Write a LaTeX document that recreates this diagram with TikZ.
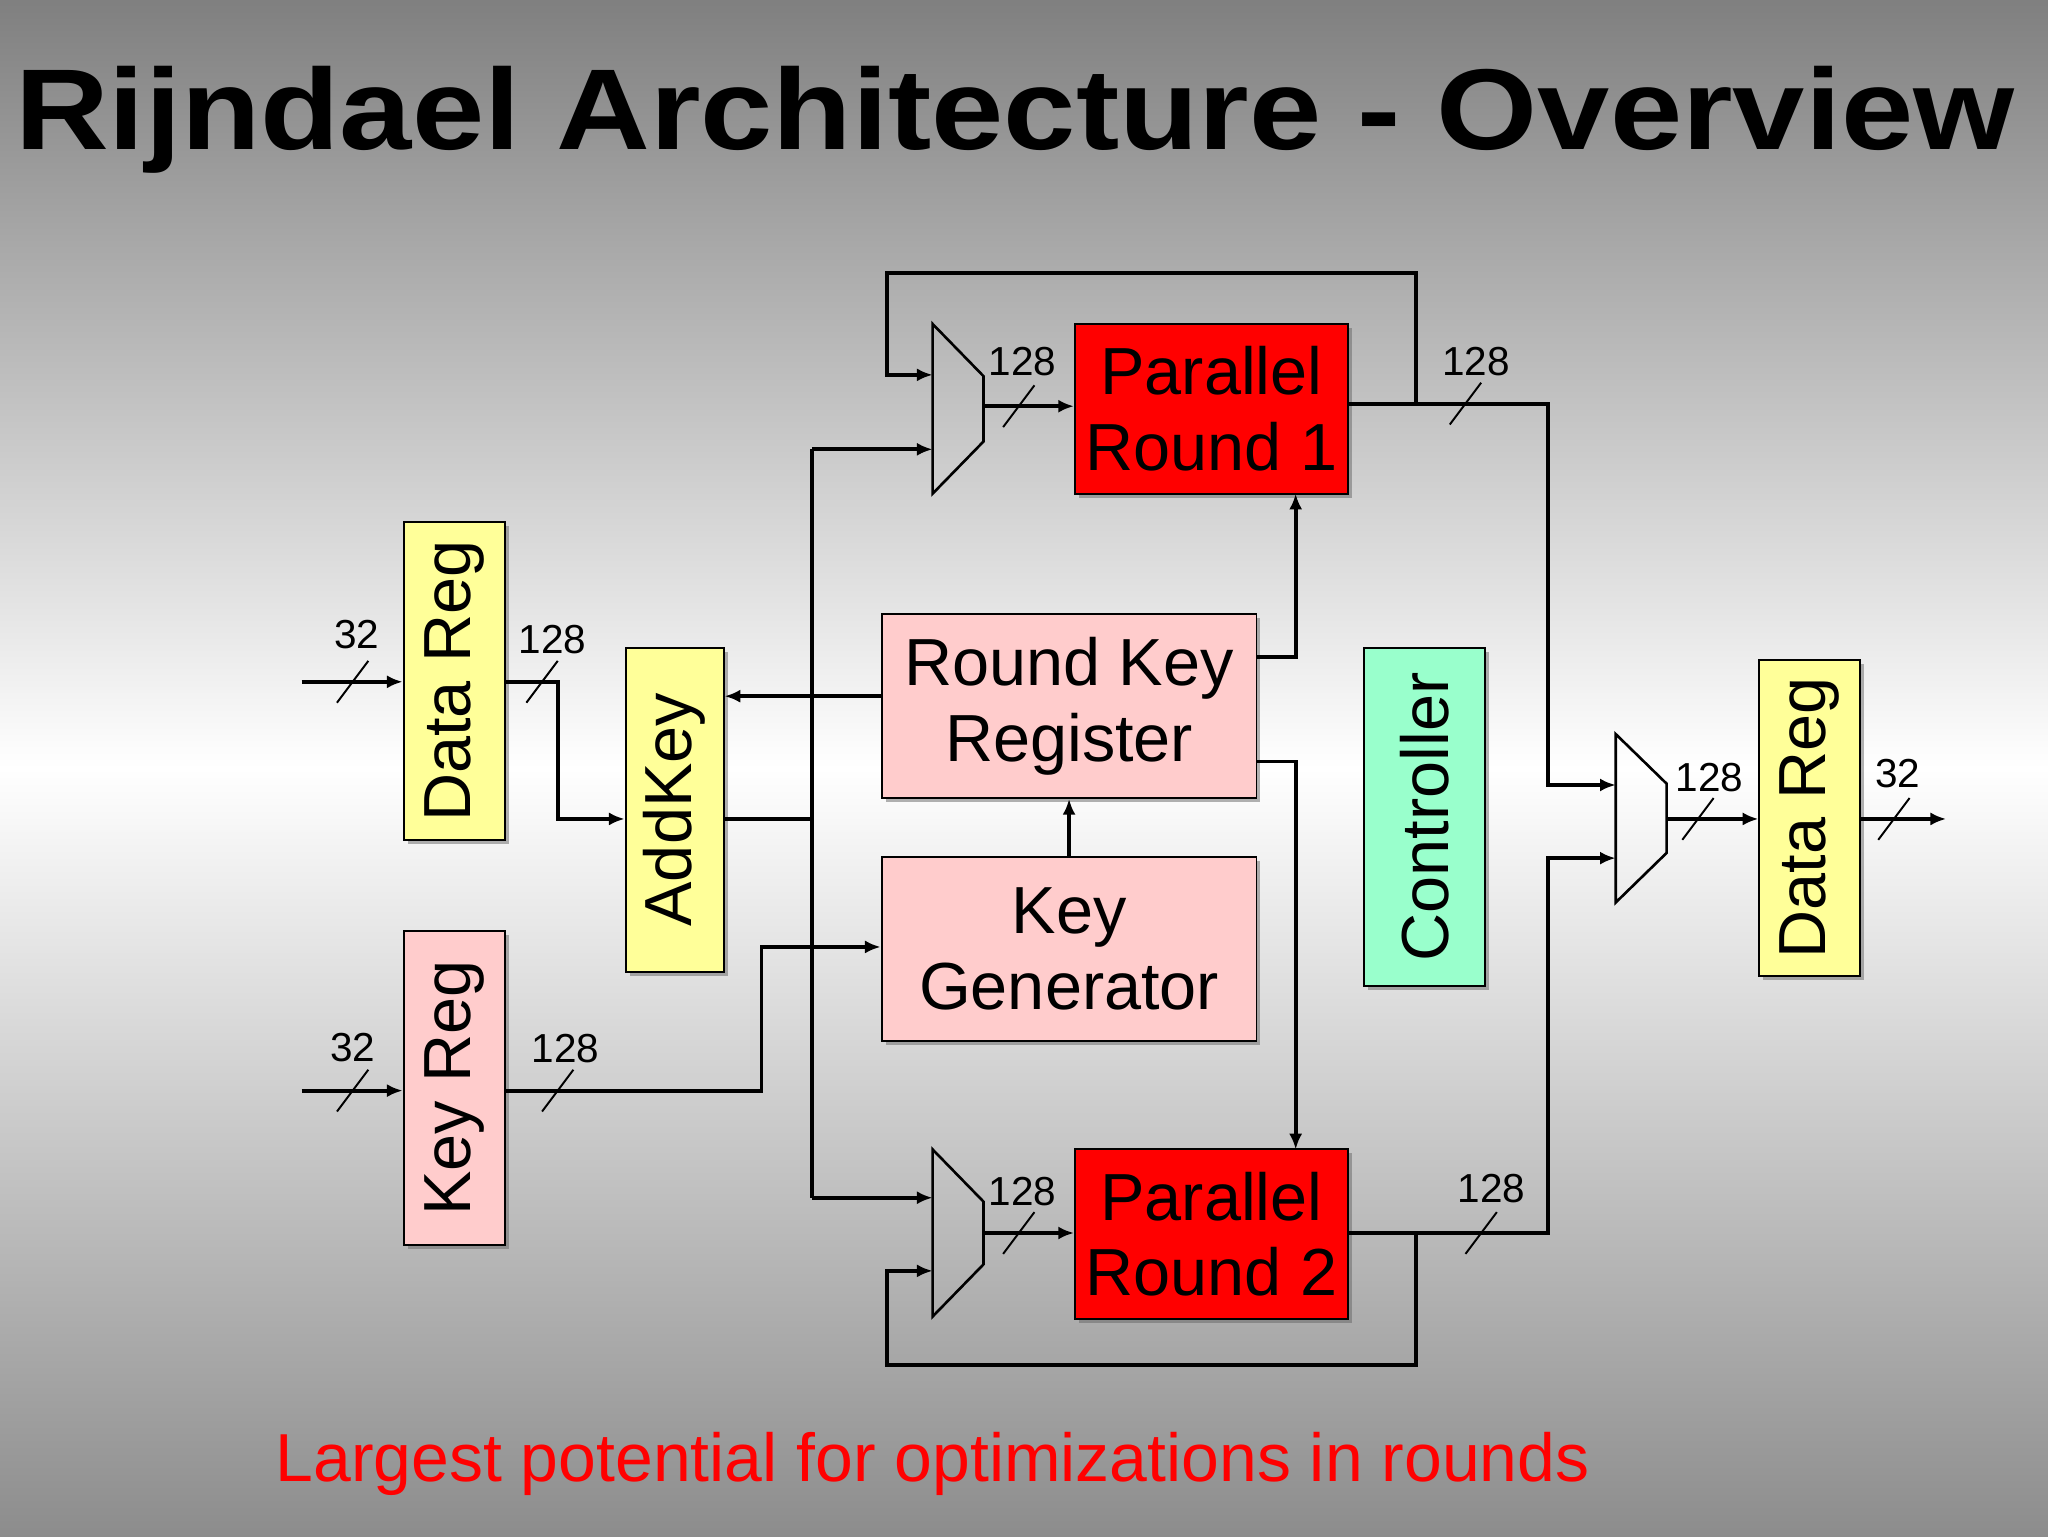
\documentclass[tikz,border=0pt]{standalone}
\usepackage{fontspec}
\setmainfont{Liberation Sans}
\usetikzlibrary{shadows,arrows.meta}
\definecolor{yel}{HTML}{FFFF99}
\definecolor{pnk}{HTML}{FFCCCC}
\definecolor{mnt}{HTML}{99FFCC}
\definecolor{rd}{HTML}{FF0000}
\tikzset{
 box/.style={draw=black, line width=1.5pt, inner sep=0pt, align=center, font=\fontsize{51}{58}\selectfont, drop shadow={shadow xshift=3pt, shadow yshift=-3pt, opacity=0.5, fill=black!60}},
 wire/.style={line width=3pt},
 arr/.style={wire, -{Latex[length=12pt,width=10pt]}},
 lbl/.style={font=\fontsize{31}{33}\selectfont, inner sep=0pt},
 mux/.style={line width=2pt, fill=none},
}
\newcommand{\slashmark}[2]{\draw[line width=1.5pt] (#1-12,#2+16) -- (#1+12,#2-16);}
\begin{document}
\begin{tikzpicture}[x=1pt,y=-1pt]
\useasboundingbox (0,0) rectangle (1568,1176);
\shade[top color=black!50, bottom color=white] (0,0) rectangle (1568,588);
\shade[top color=white, bottom color=black!45] (0,588) rectangle (1568,1176);
\node[font=\fontsize{88}{90}\selectfont\bfseries, inner sep=0pt] (title) at (777,92) {\scalebox{1.13}[1]{Rijndael Architecture - Overview}};
\node[box, fill=yel, minimum width=78pt, minimum height=243pt] (drl) at (348,521.5) {\rotatebox{90}{Data Reg}};
\node[box, fill=pnk, minimum width=78pt, minimum height=240pt] (kr) at (348,833) {\rotatebox{90}{Key Reg}};
\node[box, fill=yel, minimum width=75pt, minimum height=248pt] (ak) at (516.5,620) {\rotatebox{90}{AddKey}};
\node[box, fill=pnk, minimum width=287pt, minimum height=141pt] (rkr) at (818.5,540.5) {Round Key\\Register};
\node[box, fill=pnk, minimum width=287pt, minimum height=141pt] (kg) at (818.5,726.5) {Key\\Generator};
\node[box, fill=rd, minimum width=209pt, minimum height=130pt] (pr1) at (927.5,313) {Parallel\\Round 1};
\node[box, fill=rd, minimum width=209pt, minimum height=130pt] (pr2) at (927.5,945) {Parallel\\Round 2};
\node[box, fill=mnt, minimum width=93pt, minimum height=259pt] (ctl) at (1090.5,625.5) {\rotatebox{90}{Controller}};
\node[box, fill=yel, minimum width=77pt, minimum height=242pt] (drr) at (1385.5,626) {\rotatebox{90}{Data Reg}};
% muxes
\draw[mux] (714,248) -- (753,288) -- (753,338) -- (714,378) -- cycle;
\draw[mux] (714,880) -- (753,920) -- (753,968) -- (714,1008) -- cycle;
\draw[mux] (1237,562) -- (1276,600) -- (1276,653) -- (1237,691) -- cycle;
\coordinate (in1) at (231,522);
\coordinate (in2) at (231,835);
\coordinate (out) at (1490,627);
% left
\draw[arr] (in1) -- (drl.west|-in1); \slashmark{270}{522}
\node[lbl] at (273,486) {32};
\draw[arr] (drl.east|-in1) -- (427,522) -- (427,627) -- (ak.west|-0,627); \slashmark{415}{522}
\node[lbl] at (423,490) {128};
\draw[arr] (in2) -- (kr.west|-in2); \slashmark{270}{835}
\node[lbl] at (270,802) {32};
\draw[arr] (kr.east|-in2) -- (583,835) -- (583,725) -- (kg.west|-0,725); \slashmark{427}{835}
\node[lbl] at (433,803) {128};
% addkey out
\draw[wire] (ak.east|-0,627) -- (622,627);
\draw[wire] (622,344) -- (622,917);
\draw[arr] (622,344) -- (714,344);
\draw[arr] (622,917) -- (714,917);
\draw[arr] (rkr.west|-0,533) -- (ak.east|-0,533);
\draw[arr] (rkr.east|-0,503) -- (992,503) -- (992,378);
\draw[arr] (rkr.east|-0,583) -- (992,583) -- (992,880);
\draw[arr] (kg.north) -- (rkr.south);
% top round
\draw[arr] (753,311) -- (pr1.west|-0,311); \slashmark{780}{311}
\node[lbl] at (783,277) {128};
\draw[arr] (pr1.east|-0,309) -- (1185,309) -- (1185,601) -- (1237,601); \slashmark{1122}{309}
\node[lbl] at (1130,277) {128};
\draw[arr] (1084,309) -- (1084,209) -- (679,209) -- (679,287) -- (714,287);
% bottom round
\draw[arr] (753,944) -- (pr2.west|-0,944); \slashmark{780}{944}
\node[lbl] at (783,912) {128};
\draw[arr] (pr2.east|-0,944) -- (1185,944) -- (1185,657) -- (1237,657); \slashmark{1134}{944}
\node[lbl] at (1142,910) {128};
\draw[arr] (1084,944) -- (1084,1045) -- (679,1045) -- (679,973) -- (714,973);
% right
\draw[arr] (1276,627) -- (drr.west|-0,627); \slashmark{1300}{627}
\node[lbl] at (1309,595) {128};
\draw[arr] (drr.east|-out) -- (out); \slashmark{1450}{627}
\node[lbl] at (1453,592) {32};
\node[text=rd, font=\fontsize{52}{56}\selectfont, inner sep=0pt] (foot) at (714,1121) {Largest potential for optimizations in rounds};
\end{tikzpicture}
\end{document}
